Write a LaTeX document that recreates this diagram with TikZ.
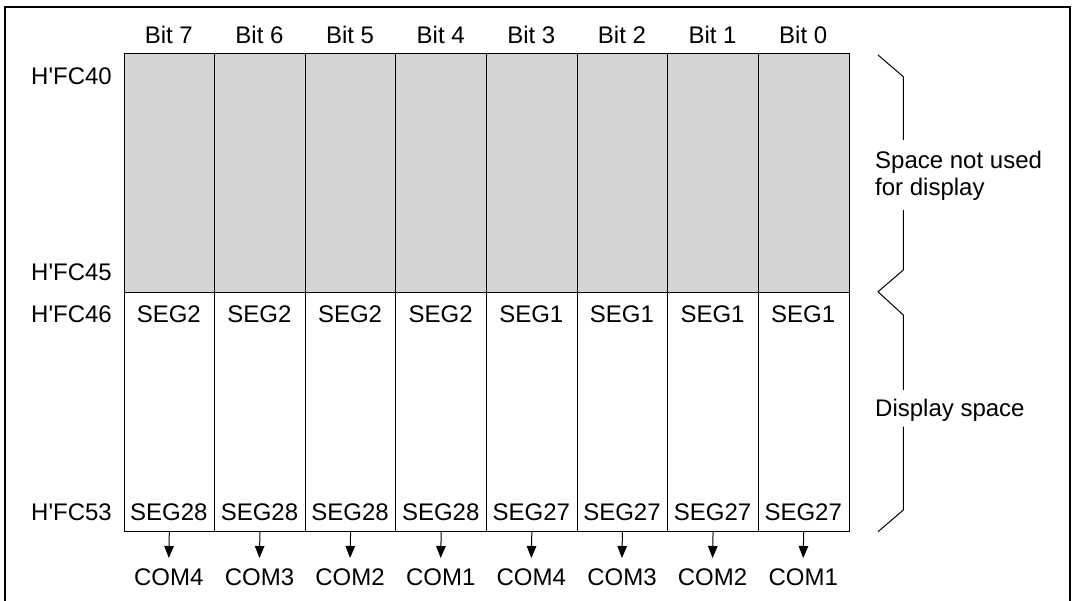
\documentclass[tikz,border=0pt]{standalone}
\usepackage{fontspec}
\setmainfont{Liberation Sans}[Ligatures=TeXOff]
\usetikzlibrary{arrows.meta}
\begin{document}
\begin{tikzpicture}[x=1pt,y=-1pt,
  lbl/.style={font=\fontsize{24}{28}\selectfont, inner sep=0pt, text depth=0pt},
  graycell/.style={draw=black, line width=1pt, fill=graycol, minimum width=90.625pt, minimum height=239pt, inner sep=0pt, anchor=north west},
  whitecell/.style={draw=black, line width=1pt, fill=white, minimum width=90.625pt, minimum height=238.7pt, inner sep=0pt, anchor=north west},
  arr/.style={line width=1pt, -{Triangle[length=12pt,width=9.5pt]}},
  bracepath/.style={line width=1pt}
]
\definecolor{graycol}{RGB}{212,212,212}
\useasboundingbox (0,0) rectangle (1075,601);
% frame
\draw[line width=2pt] (5,601) -- (5,7) -- (1070,7) -- (1070,601);
% columns
\foreach \i/\b/\s/\t/\c in {0/7/SEG2/SEG28/COM4,1/6/SEG2/SEG28/COM3,2/5/SEG2/SEG28/COM2,3/4/SEG2/SEG28/COM1,4/3/SEG1/SEG27/COM4,5/2/SEG1/SEG27/COM3,6/1/SEG1/SEG27/COM2,7/0/SEG1/SEG27/COM1}{
  \pgfmathsetmacro{\xl}{123.5+90.625*\i}
  \pgfmathsetmacro{\xc}{\xl+45.3125}
  \node[graycell] (g\i) at (\xl,53.3) {};
  \node[whitecell] (w\i) at (\xl,292.3) {};
  \node[lbl] (bit\i) at (\xc,35) {Bit \b};
  \node[lbl] (s\i) at (\xc,314) {\s};
  \node[lbl] (t\i) at (\xc,512) {\t};
  \coordinate (a\i) at (\xc,558);
  \node[lbl] (com\i) at (\xc,577) {\c};
  \draw[arr] (w\i.south) -- (a\i);
}
% address labels
\node[lbl, anchor=east] (h40) at (112,76) {H'FC40};
\node[lbl, anchor=east] (h45) at (112,272) {H'FC45};
\node[lbl, anchor=east] (h46) at (112,314) {H'FC46};
\node[lbl, anchor=east] (h53) at (112,512) {H'FC53};
% braces
\draw[bracepath] (878,55) -- (903.3,76.7) -- (903.3,140);
\draw[bracepath] (903.3,210) -- (903.3,270) -- (878,291.7) -- (903.3,315) -- (903.3,390);
\draw[bracepath] (903.3,426.7) -- (903.3,510) -- (878,531.7);
\node[lbl, anchor=west] (sp1) at (875,160) {Space not used};
\node[lbl, anchor=west] (sp2) at (875,187) {for display};
\node[lbl, anchor=west] (ds) at (875,408) {Display space};
\end{tikzpicture}
\end{document}
